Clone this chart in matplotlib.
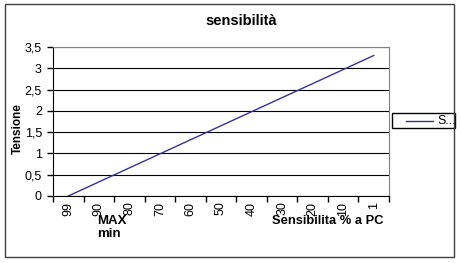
import matplotlib.pyplot as plt
from matplotlib.patches import Rectangle
from matplotlib.lines import Line2D

plt.rcParams['font.family'] = ['Liberation Sans', 'DejaVu Sans']

# data
categories = ['99', '90', '80', '70', '60', '50', '40', '30', '20', '10', '1']
tensione = [0.0, 0.33, 0.66, 0.99, 1.32, 1.65, 1.98, 2.31, 2.64, 2.97, 3.3]
yticks = [0, 0.5, 1, 1.5, 2, 2.5, 3, 3.5]
ytick_labels = ['0', '0,5', '1', '1,5', '2', '2,5', '3', '3,5']

W, H = 461, 263
fig = plt.figure(figsize=(W / 100, H / 100), dpi=100)
ax = fig.add_axes([53 / W, 1 - 196 / H, (389 - 53) / W, (196 - 47) / H])

xs = list(range(len(categories)))
line, = ax.plot(xs, tensione, color='#333399', linewidth=1.0, label='S...')

ax.set_xlim(-0.5, len(categories) - 0.5)
ax.set_ylim(0, 3.5)

# category ticks sit between categories (Excel style)
ax.set_xticks([i - 0.5 for i in range(len(categories) + 1)])
ax.set_xticklabels([])
ax.set_xticks(xs, minor=True)
ax.set_xticklabels(categories, minor=True, rotation=90, fontsize=9)
ax.tick_params(axis='x', which='minor', length=0, pad=4)
ax.tick_params(axis='x', which='major', length=4, width=1, direction='out')

ax.set_yticks(yticks)
ax.set_yticklabels(ytick_labels, fontsize=9)
ax.tick_params(axis='y', length=4, width=1, direction='out', pad=4)

ax.grid(axis='y', color='black', linewidth=0.8)
ax.set_axisbelow(True)
for s in ['top', 'right']:
    ax.spines[s].set_color('#808080')
for s in ['left', 'bottom']:
    ax.spines[s].set_color('black')

# texts
fig.text(241 / W, 1 - 21 / H, 'sensibilità', ha='center', va='center',
         fontsize=10.5, fontweight='bold')
fig.text(18 / W, 1 - 129 / H, 'Tensione', ha='center', va='center',
         rotation=90, fontsize=8.5, fontweight='bold')
fig.text(97 / W, 1 - 221 / H, 'MAX', ha='left', va='center',
         fontsize=9.5, fontweight='bold')
fig.text(97 / W, 1 - 234 / H, 'min', ha='left', va='center',
         fontsize=9.5, fontweight='bold')
fig.text(272 / W, 1 - 221 / H, 'Sensibilita % a PC', ha='left', va='center',
         fontsize=9.3, fontweight='bold')

# legend box
fig.patches.append(Rectangle((392 / W, 1 - 128 / H), (455 - 392) / W, 15 / H,
                             transform=fig.transFigure, facecolor='white',
                             edgecolor='black', linewidth=1))
fig.add_artist(Line2D([406 / W, 433 / W], [1 - 120.5 / H, 1 - 120.5 / H],
                      transform=fig.transFigure, color='#333399', linewidth=1.0))
fig.text(437 / W, 1 - 120.5 / H, 'S...', ha='left', va='center', fontsize=9)

# chart border
fig.patches.append(Rectangle((5 / W, 1 - 257 / H), (454 - 5) / W, (257 - 4) / H,
                             transform=fig.transFigure, facecolor='none',
                             edgecolor='#404040', linewidth=1))

fig.savefig('out.png', dpi=100)
